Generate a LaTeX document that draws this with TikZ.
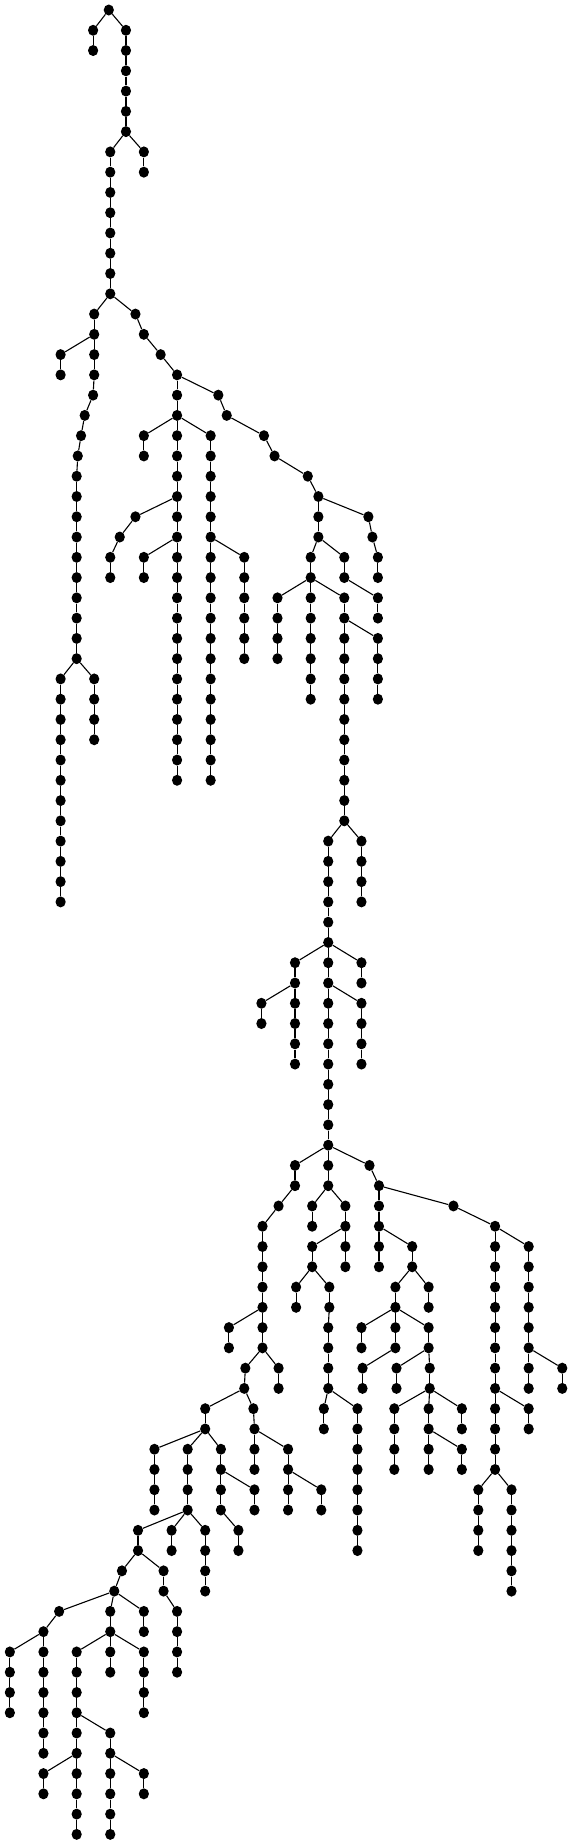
\documentclass[tikz,border=0pt]{standalone}
\usetikzlibrary{shapes.geometric}
\tikzset{dot/.style={ellipse,fill=black,inner sep=0pt,minimum width=10.2pt,minimum height=11pt},
edge/.style={draw=black,line width=1.1pt}}
\newcommand\nd[2]{\node[dot] (n#1x#2) at (#2,#1) {};}
\newcommand\cn[4]{\node[dot] (n#3x#4) at (#4,#3) {}; \draw[edge] (n#1x#2) -- (n#3x#4);}
\newcommand\vch[3]{\foreach \kk in {#2,...,#3}{\pgfmathtruncatemacro\pp{\kk-1}\node[dot] (n\kk x#1) at (#1,\kk) {}; \draw[edge] (n\pp x#1) -- (n\kk x#1);}}
\begin{document}
\begin{tikzpicture}[x=0.3651pt,y=-20.27pt]
\useasboundingbox (0,-0.4933) rectangle (1564,90.476);
\nd{0}{298}
\cn{0}{298}{1}{255}
\vch{255}{2}{2}
\cn{0}{298}{1}{345}
\vch{345}{2}{6}
\cn{6}{345}{7}{302}
\cn{6}{345}{7}{394}
\vch{394}{8}{8}
\vch{302}{8}{14}
\cn{14}{302}{15}{258}
\cn{14}{302}{15}{371}
\vch{258}{16}{16}
\cn{16}{258}{17}{166}
\vch{166}{18}{18}
\vch{258}{17}{18}
\cn{18}{258}{19}{255}
\cn{19}{255}{20}{232}
\cn{20}{232}{21}{222}
\cn{21}{222}{22}{213}
\cn{22}{213}{23}{210}
\vch{210}{24}{32}
\cn{32}{210}{33}{166}
\vch{166}{34}{44}
\cn{32}{210}{33}{258}
\vch{258}{34}{36}
\cn{15}{371}{16}{394}
\cn{16}{394}{17}{440}
\cn{17}{440}{18}{485}
\vch{485}{19}{20}
\cn{20}{485}{21}{394}
\vch{394}{22}{22}
\vch{485}{21}{24}
\cn{24}{485}{25}{371}
\cn{25}{371}{26}{328}
\cn{26}{328}{27}{302}
\vch{302}{28}{28}
\vch{485}{25}{26}
\cn{26}{485}{27}{394}
\vch{394}{28}{28}
\vch{485}{27}{38}
\cn{20}{485}{21}{577}
\vch{577}{22}{26}
\cn{26}{577}{27}{669}
\vch{669}{28}{32}
\vch{577}{27}{38}
\cn{18}{485}{19}{598}
\cn{19}{598}{20}{621}
\cn{20}{621}{21}{723}
\cn{21}{723}{22}{752}
\cn{22}{752}{23}{843}
\cn{23}{843}{24}{872}
\cn{24}{872}{25}{1009}
\cn{25}{1009}{26}{1020}
\cn{26}{1020}{27}{1035}
\vch{1035}{28}{28}
\vch{872}{25}{26}
\cn{26}{872}{27}{851}
\vch{851}{28}{28}
\cn{28}{851}{29}{760}
\vch{760}{30}{32}
\vch{851}{29}{34}
\cn{26}{872}{27}{943}
\vch{943}{28}{28}
\cn{28}{851}{29}{943}
\cn{28}{943}{29}{1035}
\vch{1035}{30}{30}
\vch{943}{30}{30}
\cn{30}{943}{31}{1035}
\vch{1035}{32}{34}
\vch{943}{31}{40}
\cn{40}{943}{41}{899}
\cn{40}{943}{41}{990}
\vch{990}{42}{44}
\vch{899}{42}{46}
\cn{46}{899}{47}{808}
\vch{808}{48}{48}
\cn{48}{808}{49}{716}
\vch{716}{50}{50}
\vch{808}{49}{52}
\cn{46}{899}{47}{990}
\vch{990}{48}{48}
\vch{899}{47}{48}
\cn{48}{899}{49}{990}
\vch{990}{50}{52}
\vch{899}{49}{58}
\cn{56}{899}{57}{808}
\vch{808}{58}{58}
\cn{58}{808}{59}{763}
\cn{59}{763}{60}{719}
\vch{719}{61}{66}
\cn{64}{719}{65}{627}
\vch{627}{66}{66}
\cn{66}{719}{67}{672}
\cn{66}{719}{67}{763}
\vch{763}{68}{68}
\cn{67}{672}{68}{669}
\cn{68}{669}{69}{562}
\vch{562}{70}{70}
\cn{70}{562}{71}{423}
\vch{423}{72}{74}
\cn{70}{562}{71}{514}
\vch{514}{72}{74}
\cn{70}{562}{71}{605}
\vch{605}{72}{74}
\cn{72}{605}{73}{697}
\vch{697}{74}{74}
\cn{74}{605}{75}{653}
\vch{653}{76}{76}
\cn{74}{514}{75}{378}
\vch{378}{76}{76}
\cn{74}{514}{75}{470}
\vch{470}{76}{76}
\cn{74}{514}{75}{562}
\vch{562}{76}{78}
\cn{76}{378}{77}{334}
\cn{77}{334}{78}{313}
\cn{76}{378}{77}{448}
\vch{448}{78}{78}
\cn{78}{448}{79}{485}
\vch{485}{80}{82}
\cn{78}{313}{79}{162}
\cn{79}{162}{80}{119}
\cn{80}{119}{81}{27}
\vch{27}{82}{84}
\vch{119}{81}{86}
\cn{78}{313}{79}{302}
\vch{302}{80}{82}
\cn{78}{313}{79}{394}
\vch{394}{80}{80}
\cn{80}{302}{81}{210}
\vch{210}{82}{86}
\cn{80}{302}{81}{394}
\vch{394}{82}{84}
\cn{84}{210}{85}{302}
\vch{302}{86}{90}
\cn{86}{302}{87}{394}
\vch{394}{88}{88}
\cn{86}{210}{87}{119}
\vch{119}{88}{88}
\vch{210}{87}{90}
\cn{68}{669}{69}{694}
\cn{69}{694}{70}{697}
\vch{697}{71}{72}
\cn{70}{697}{71}{789}
\vch{789}{72}{74}
\cn{72}{789}{73}{880}
\vch{880}{74}{74}
\cn{58}{899}{59}{855}
\vch{855}{60}{60}
\cn{58}{899}{59}{946}
\vch{946}{60}{62}
\cn{60}{946}{61}{855}
\vch{855}{62}{62}
\cn{62}{855}{63}{811}
\vch{811}{64}{64}
\cn{62}{855}{63}{902}
\vch{902}{64}{64}
\cn{64}{902}{65}{899}
\vch{899}{66}{68}
\cn{68}{899}{69}{887}
\vch{887}{70}{70}
\cn{68}{899}{69}{979}
\vch{979}{70}{76}
\cn{56}{899}{57}{1012}
\cn{57}{1012}{58}{1038}
\vch{1038}{59}{62}
\cn{60}{1038}{61}{1129}
\vch{1129}{62}{62}
\cn{62}{1129}{63}{1083}
\vch{1083}{64}{66}
\cn{62}{1129}{63}{1174}
\vch{1174}{64}{64}
\cn{64}{1083}{65}{990}
\vch{990}{66}{66}
\cn{64}{1083}{65}{1174}
\vch{1174}{66}{66}
\cn{66}{1083}{67}{993}
\vch{993}{68}{68}
\cn{66}{1174}{67}{1086}
\vch{1086}{68}{68}
\cn{66}{1174}{67}{1177}
\vch{1177}{68}{68}
\cn{68}{1177}{69}{1080}
\vch{1080}{70}{72}
\cn{68}{1177}{69}{1174}
\vch{1174}{70}{72}
\cn{68}{1177}{69}{1265}
\vch{1265}{70}{70}
\cn{70}{1174}{71}{1265}
\vch{1265}{72}{72}
\cn{58}{1038}{59}{1242}
\cn{59}{1242}{60}{1356}
\vch{1356}{61}{72}
\cn{60}{1356}{61}{1448}
\vch{1448}{62}{68}
\cn{66}{1448}{67}{1540}
\vch{1540}{68}{68}
\cn{68}{1356}{69}{1448}
\vch{1448}{70}{70}
\cn{72}{1356}{73}{1310}
\vch{1310}{74}{76}
\cn{72}{1356}{73}{1401}
\vch{1401}{74}{78}
\end{tikzpicture}
\end{document}
